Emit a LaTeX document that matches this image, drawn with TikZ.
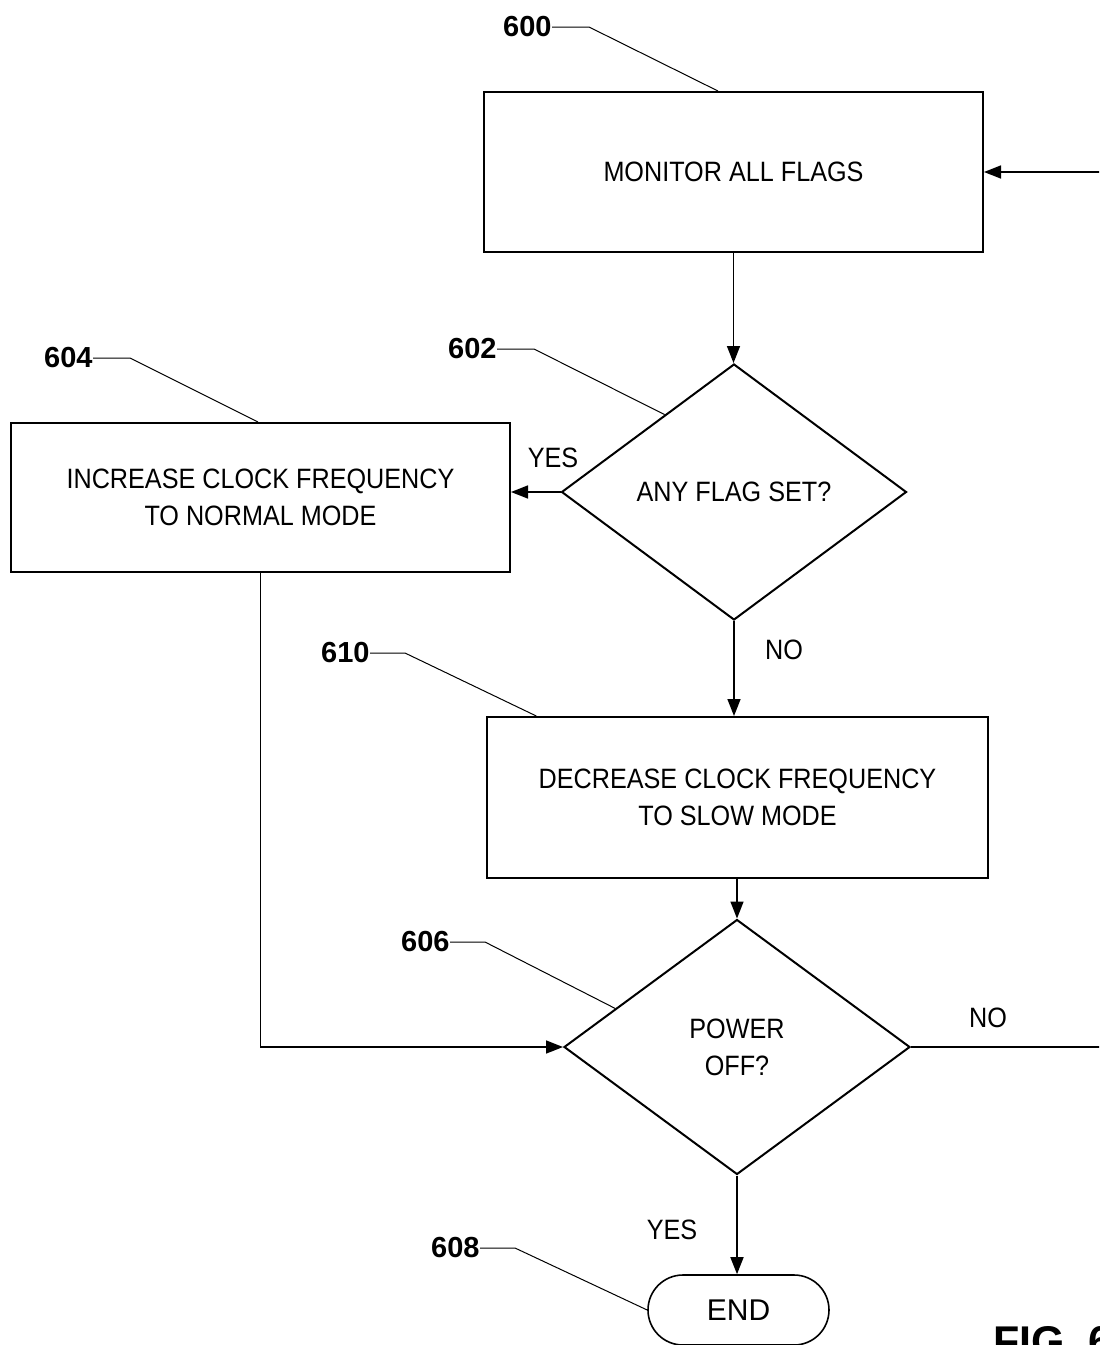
\documentclass[tikz,border=0pt]{standalone}
\usepackage{fontspec}
\usetikzlibrary{calc,shapes.geometric,shapes.misc,arrows.meta}
\newfontfamily\flowfont{Liberation Sans}[FakeStretch=0.9]
\newfontfamily\reffont{Liberation Sans}

\begin{document}
\begin{tikzpicture}[x=0.5pt, y=-0.5pt,
    box/.style={draw, line width=1pt, align=center, inner sep=0pt, font=\flowfont\fontsize{14}{18.5}\selectfont},
    cond/.style={draw, diamond, line width=1pt, align=center, inner sep=0pt, font=\flowfont\fontsize{14}{18.5}\selectfont},
    term/.style={draw, rounded rectangle, line width=0.8pt, inner sep=0pt, font=\reffont\fontsize{15}{18}\selectfont},
    arr/.style={line width=0.8pt, -{Triangle[length=8.5pt, width=6.5pt]}},
    lead/.style={line width=0.5pt},
    tag/.style={anchor=east, inner sep=0pt, font=\reffont\bfseries\fontsize{14.5}{17}\selectfont},
    lbl/.style={inner sep=0pt, font=\flowfont\fontsize{14}{17}\selectfont}]
  \useasboundingbox (0,0) rectangle (1099,1345);
  \clip (0,0) rectangle (1099,1345);
  % steps of the loop
  \node[box, minimum width=249.5pt, minimum height=80pt] (b600) at (733.5,172) {MONITOR ALL FLAGS};
  \node[cond, minimum width=172.5pt, minimum height=128pt] (d602) at (734,492) {ANY FLAG SET?};
  \node[box, minimum width=249.5pt, minimum height=74.5pt] (b604) at (260.5,497.5) {INCREASE CLOCK FREQUENCY\\TO NORMAL MODE};
  \node[box, minimum width=250.5pt, minimum height=80.5pt] (b610) at (737.5,797.5) {DECREASE CLOCK FREQUENCY\\TO SLOW MODE};
  \node[cond, minimum width=173pt, minimum height=127.5pt] (d606) at (737,1047) {POWER\\OFF?};
  \node[term, minimum width=90.5pt, minimum height=35pt] (end) at (738.5,1310) {END};
  \coordinate (loop) at (1115,600);
  % flow
  \draw[arr] (b600.south) -- (b600.south |- d602.north);
  \draw[arr] (d602.west) -- (d602.west -| b604.east);
  \draw[arr] (d602.south) -- (d602.south |- b610.north);
  \draw[arr] (b610.south -| d606.north) -- (d606.north);
  \draw[arr] (b604.south) -- (b604.south |- d606.west) -- (d606.west);
  \draw[arr] (d606.east) -- (d606.east -| loop) -- (b600.east -| loop) -- (b600.east);
  \draw[arr] (d606.south) -- (d606.south |- end.north);
  \node[lbl] (yes1) at (553,458) {YES};
  \node[lbl] (no1) at (784,650) {NO};
  \node[lbl] (no2) at (988,1018) {NO};
  \node[lbl] (yes2) at (672,1230) {YES};
  % reference numerals
  \node[tag] (t600) at (552,27) {600};
  \draw[lead] (t600.east) -- ++(37,0) -- ($(b600.north west)!0.469!(b600.north east)$);
  \node[tag] (t602) at (497,349) {602};
  \draw[lead] (t602.east) -- ++(37,0) -- ($(d602.north)!0.4!(d602.west)$);
  \node[tag] (t604) at (93,358) {604};
  \draw[lead] (t604.east) -- ++(37,0) -- ($(b604.north west)!0.495!(b604.north east)$);
  \node[tag] (t610) at (370,653) {610};
  \draw[lead] (t610.east) -- ++(35,0) -- ($(b610.north west)!0.1!(b610.north east)$);
  \node[tag] (t606) at (450,942) {606};
  \draw[lead] (t606.east) -- ++(35,0) -- ($(d606.north)!0.7!(d606.west)$);
  \node[tag] (t608) at (480,1248) {608};
  \draw[lead] (t608.east) -- ++(35,0) -- (end.west);
  \node[anchor=north west, inner sep=0pt, font=\reffont\bfseries\fontsize{21.5}{24}\selectfont] (fig) at (993,1326) {FIG. 6};
\end{tikzpicture}
\end{document}
